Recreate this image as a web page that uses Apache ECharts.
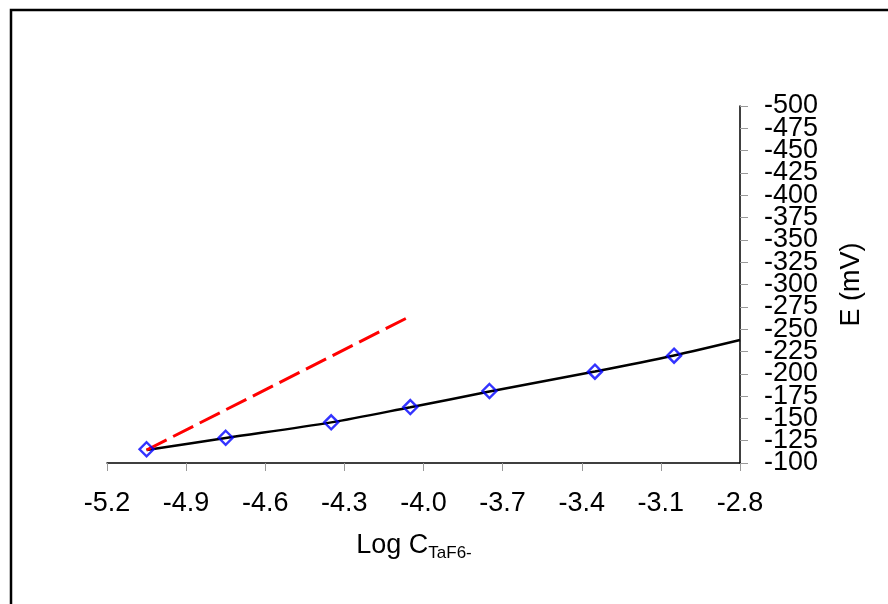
<!DOCTYPE html>
<html>
<head>
<meta charset="utf-8">
<script src="https://cdn.jsdelivr.net/npm/echarts@6/dist/echarts.min.js"></script>
<style>
  html, body { margin: 0; padding: 0; background: #fff; }
  #chart { width: 888px; height: 604px; }
</style>
</head>
<body>
<div id="chart"></div>
<script>
// ---- data ----
const xTicks = [-5.2, -4.9, -4.6, -4.3, -4.0, -3.7, -3.4, -3.1, -2.8];
const yTicks = [-500, -475, -450, -425, -400, -375, -350, -325, -300, -275, -250, -225, -200, -175, -150, -125, -100];
const yLabelsA = [-500, -450, -400, -350, -300, -250, -200, -150, -100];
const yLabelsB = [-475, -425, -375, -325, -275, -225, -175, -125];
const logC = [-5.05, -4.75, -4.35, -4.05, -3.75, -3.35, -3.05];
const measuredE = [-115.4, -128.3, -145.6, -162.7, -180.7, -202.3, -220.2];
const fitX = [-5.05, -4.75, -4.35, -4.05, -3.75, -3.35, -3.05, -2.8];
const fitE = [-114.6, -128, -145.5, -162.5, -180, -202.5, -220.5, -237.8];
const theoX = [-5.05, -4.066];
const theoE = [-114.6, -262.1];

const FONT = '"Liberation Sans", Arial, sans-serif';
const zip = (a, b) => a.map((v, i) => [v, b[i]]);

const GRID = { left: 107, right: 148, top: 106, bottom: 141 };
const gridWidth = 888 - GRID.left - GRID.right;

const labelStyle = { margin: 24, fontSize: 27, color: '#000', fontFamily: FONT };

const chart = echarts.init(document.getElementById('chart'), null, { renderer: 'canvas' });
chart.setOption({
  animation: false,
  backgroundColor: '#fff',
  textStyle: { fontFamily: FONT, color: '#000' },
  graphic: [{
    type: 'rect',
    shape: { x: 11, y: 10, width: 900, height: 620 },
    style: { fill: 'none', stroke: '#000', lineWidth: 2.5 },
    silent: true
  }],
  grid: GRID,
  xAxis: {
    type: 'value',
    min: -5.2,
    max: -2.8,
    splitLine: { show: false },
    axisLine: { show: true, onZero: false, lineStyle: { color: '#000', width: 1.5 } },
    axisTick: { show: true, length: 8, customValues: xTicks, lineStyle: { color: '#999', width: 1 } },
    axisLabel: {
      customValues: xTicks,
      margin: 27,
      fontSize: 27,
      color: '#000',
      fontFamily: FONT,
      formatter: v => Number(v).toFixed(1)
    },
    name: '{a|Log C}{b|TaF6-}',
    nameLocation: 'middle',
    nameGap: 68,
    nameTextStyle: {
      padding: [0, 19, 0, 0],
      rich: {
        a: { fontSize: 27, fontFamily: FONT, color: '#000', lineHeight: 30 },
        b: { fontSize: 17, fontFamily: FONT, color: '#000', lineHeight: 17, padding: [14, 0, 0, 0] }
      }
    }
  },
  yAxis: [
    {
      type: 'value',
      position: 'right',
      inverse: true,
      min: -500,
      max: -100,
      splitLine: { show: false },
      axisLine: { show: true, onZero: false, lineStyle: { color: '#000', width: 1.5 } },
      axisTick: { show: true, length: 8, customValues: yTicks, lineStyle: { color: '#999', width: 1 } },
      axisLabel: Object.assign({ customValues: yLabelsB }, labelStyle),
      name: 'E (mV)',
      nameLocation: 'middle',
      nameRotate: 90,
      nameGap: 98,
      nameTextStyle: { fontSize: 27, color: '#000', fontFamily: FONT }
    },
    {
      type: 'value',
      position: 'left',
      offset: -gridWidth,
      inverse: true,
      min: -500,
      max: -100,
      splitLine: { show: false },
      axisLine: { show: false },
      axisTick: { show: false },
      axisLabel: Object.assign({ customValues: yLabelsA, inside: true, showMinLabel: true, showMaxLabel: true }, labelStyle)
    }
  ],
  series: [
    {
      name: 'fit',
      type: 'line',
      data: zip(fitX, fitE),
      smooth: 0.3,
      showSymbol: false,
      symbol: 'none',
      lineStyle: { color: '#000', width: 2.5 },
      z: 2
    },
    {
      name: 'theoretical',
      type: 'line',
      data: zip(theoX, theoE),
      showSymbol: false,
      symbol: 'none',
      lineStyle: { color: '#ff0000', width: 3, type: [22.5, 7.3] },
      z: 3
    },
    {
      name: 'measured',
      type: 'scatter',
      data: zip(logC, measuredE),
      symbol: 'diamond',
      symbolSize: [14, 14],
      itemStyle: { color: 'rgba(0,0,0,0)', borderColor: '#0000ff', borderWidth: 2.4 },
      z: 4
    }
  ]
});
</script>
</body>
</html>
